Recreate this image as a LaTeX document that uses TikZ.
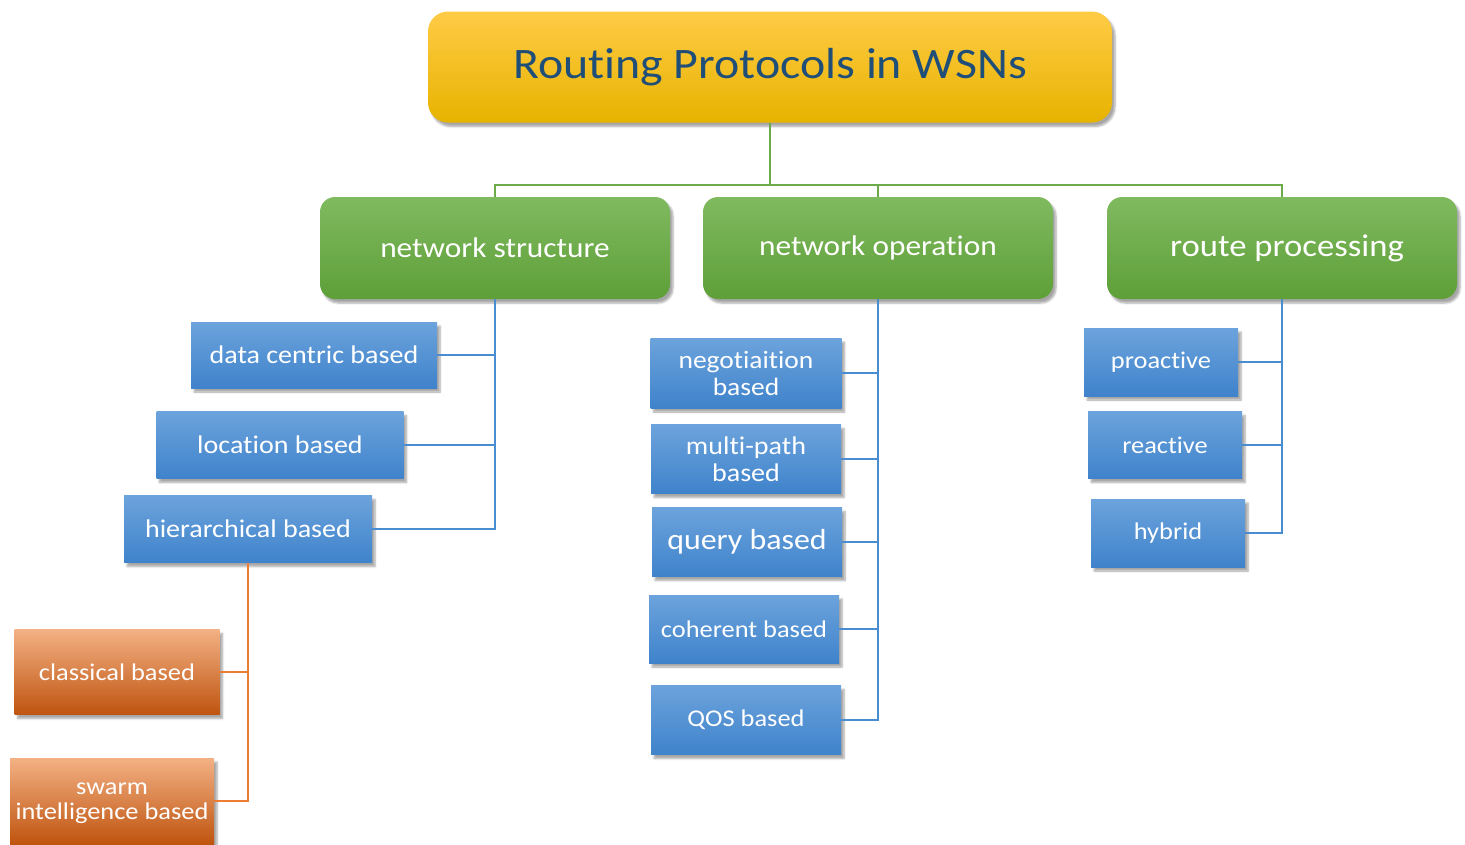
\documentclass[tikz,border=0pt]{standalone}
\usepackage{fontspec}
\setmainfont{Carlito}[FakeStretch=1.1, Ligatures=NoCommon]
\usetikzlibrary{shadows.blur}
\definecolor{goldtop}{HTML}{FFCB45}
\definecolor{goldbot}{HTML}{E7B300}
\definecolor{greentop}{HTML}{80BA60}
\definecolor{greenbot}{HTML}{5E9F38}
\definecolor{bluetop}{HTML}{6CA3DC}
\definecolor{bluebot}{HTML}{3F83CB}
\definecolor{orangetop}{HTML}{F3B184}
\definecolor{orangebot}{HTML}{BF540F}
\definecolor{titletext}{HTML}{1F4E79}
\definecolor{greenline}{HTML}{6DAA49}
\definecolor{blueline}{HTML}{4A8CD0}
\definecolor{orangeline}{HTML}{ED7D31}
\newcommand{\fs}[1]{\fontsize{#1}{27}\selectfont}
\tikzset{
  softshadow/.style={blur shadow={shadow xshift=3pt, shadow yshift=-4pt, shadow blur steps=6, shadow opacity=35}},
  titlebox/.style={softshadow, rounded corners=20pt, top color=goldtop, bottom color=goldbot,
    minimum width=684pt, minimum height=111pt, text=titletext, font=\fs{43.5}},
  groupbox/.style={softshadow, rounded corners=15pt, top color=greentop, bottom color=greenbot,
    minimum width=350pt, minimum height=102pt, text=white, font=\fs{28.5}},
  leafbox/.style={softshadow, top color=bluetop, bottom color=bluebot, text=white,
    align=center, font=\fs{24.5}, inner sep=2pt},
  subbox/.style={softshadow, top color=orangetop, bottom color=orangebot, text=white,
    align=center, font=\fontsize{24}{25}\selectfont, inner sep=2pt},
  gline/.style={draw=greenline, line width=2pt},
  bline/.style={draw=blueline, line width=2pt},
  oline/.style={draw=orangeline, line width=2pt},
}
\begin{document}
\begin{tikzpicture}[x=1pt, y=-1pt]
\useasboundingbox (0,0) rectangle (1465,844);

% top level
\node[titlebox] (title) at (770,67) {Routing Protocols in WSNs};

% three groups
\node[groupbox] (ns) at (495,248) {network structure};
\node[groupbox] (no) at (878,248) {network operation};
\node[groupbox, font=\fs{31.5}] (rp) at (1282,248) {\hspace*{10pt}route processing};

% network structure leaves
\node[leafbox, font=\fs{25.5}, minimum width=246pt, minimum height=66pt] (dc) at (314,355) {data centric based};
\node[leafbox, font=\fs{25.5}, minimum width=247pt, minimum height=67pt] (lb) at (280,445) {location based};
\node[leafbox, font=\fs{25.5}, minimum width=248pt, minimum height=67pt] (hb) at (248,529) {hierarchical based};

% network operation leaves
\node[leafbox, font=\fs{25}, minimum width=191pt, minimum height=70pt] (ng) at (746,373) {negotiaition\\based};
\node[leafbox, font=\fs{25.5}, minimum width=190pt, minimum height=69pt] (mp) at (746,459) {multi-path\\based};
\node[leafbox, font=\fs{29}, minimum width=190pt, minimum height=69pt] (qb) at (747,542) {query based};
\node[leafbox, font=\fs{24}, minimum width=190pt, minimum height=68pt] (cb) at (744,629) {coherent based};
\node[leafbox, font=\fs{24}, minimum width=190pt, minimum height=69pt] (qos) at (746,720) {QOS based};

% route processing leaves
\node[leafbox, font=\fs{24}, minimum width=154pt, minimum height=68pt] (pa) at (1161,362) {proactive};
\node[leafbox, font=\fs{24}, minimum width=154pt, minimum height=67pt] (ra) at (1165,445) {reactive};
\node[leafbox, font=\fs{24}, minimum width=154pt, minimum height=68pt] (hy) at (1168,533) {hybrid};

% hierarchical sub-classes
\node[subbox, minimum width=205pt, minimum height=85pt] (cl) at (117,672) {classical based};
\node[subbox, minimum width=204pt, minimum height=86pt, text depth=0pt] (sw) at (112,801) {swarm\\intelligence based};

% green connectors
\coordinate (bus) at (770,185);
\draw[gline] (title.south) -- (bus);
\draw[gline] (bus) -| (ns.north);
\draw[gline] (bus) -| (no.north);
\draw[gline] (bus) -| (rp.north);

% blue connectors
\draw[bline] (ns.south) |- (dc.east);
\draw[bline] (ns.south) |- (lb.east);
\draw[bline] (ns.south) |- (hb.east);
\draw[bline] (no.south) |- (ng.east);
\draw[bline] (no.south) |- (mp.east);
\draw[bline] (no.south) |- (qb.east);
\draw[bline] (no.south) |- (cb.east);
\draw[bline] (no.south) |- (qos.east);
\draw[bline] (rp.south) |- (pa.east);
\draw[bline] (rp.south) |- (ra.east);
\draw[bline] (rp.south) |- (hy.east);

% orange connectors
\draw[oline] (hb.south) |- (cl.east);
\draw[oline] (hb.south) |- (sw.east);
\end{tikzpicture}
\end{document}
